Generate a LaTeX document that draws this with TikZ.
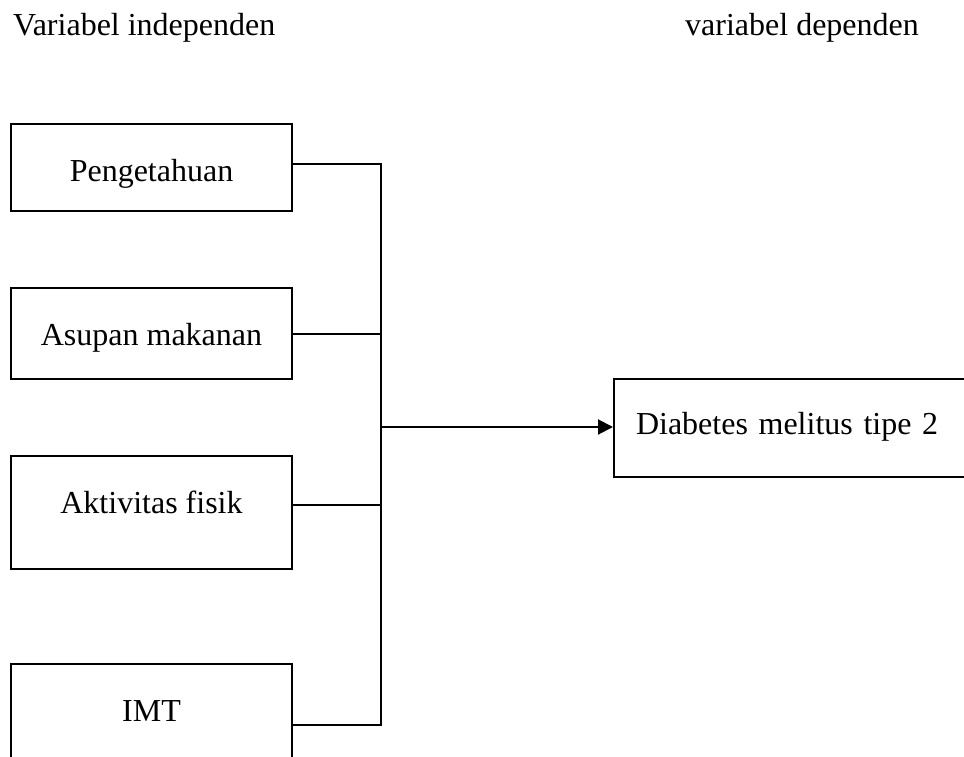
\documentclass[tikz,border=0pt]{standalone}
\usepackage{fontspec}
\setmainfont{Liberation Serif}
\usetikzlibrary{arrows.meta}
\begin{document}
\begin{tikzpicture}[x=1pt,y=1pt,
  every node/.style={font=\fontsize{32}{38}\selectfont, inner sep=0pt},
  varbox/.style={draw, line width=2pt, anchor=north, minimum width=281pt, text height=57pt},
  link/.style={line width=2pt},
  arr/.style={line width=2pt, -{Triangle[length=15pt,width=15pt]}}]
\useasboundingbox (0,0) rectangle (964,-756);
\clip (0,0) rectangle (964,-756);
\node[anchor=base west] (tl) at (13,-35) {Variabel independen};
\node[anchor=base west] (tr) at (685,-35) {variabel dependen};
\node[varbox, text depth=30pt] (p) at (151.5,-123) {Pengetahuan};
\node[varbox, text depth=34pt] (a) at (151.5,-287) {Asupan makanan};
\node[varbox, text depth=56pt] (f) at (151.5,-455) {Aktivitas fisik};
\node[varbox, text depth=65pt] (m) at (151.5,-663) {IMT};
\node[draw, line width=2pt, anchor=north west, inner xsep=22pt, inner ysep=0pt,
      text width=356pt, align=left, text height=55pt, text depth=43pt] (d) at (613,-378) {\mbox{Diabetes melitus tipe 2}};
\coordinate (j) at (381,-427);
\draw[link] ([yshift=3.5pt]p.east) -| (j);
\draw[link] (a.east) -| (j);
\draw[link] ([yshift=7.5pt]f.east) -| (j);
\draw[link] (m.east) -| (j);
\draw[arr] (j) -- (j -| d.west);
\end{tikzpicture}
\end{document}
